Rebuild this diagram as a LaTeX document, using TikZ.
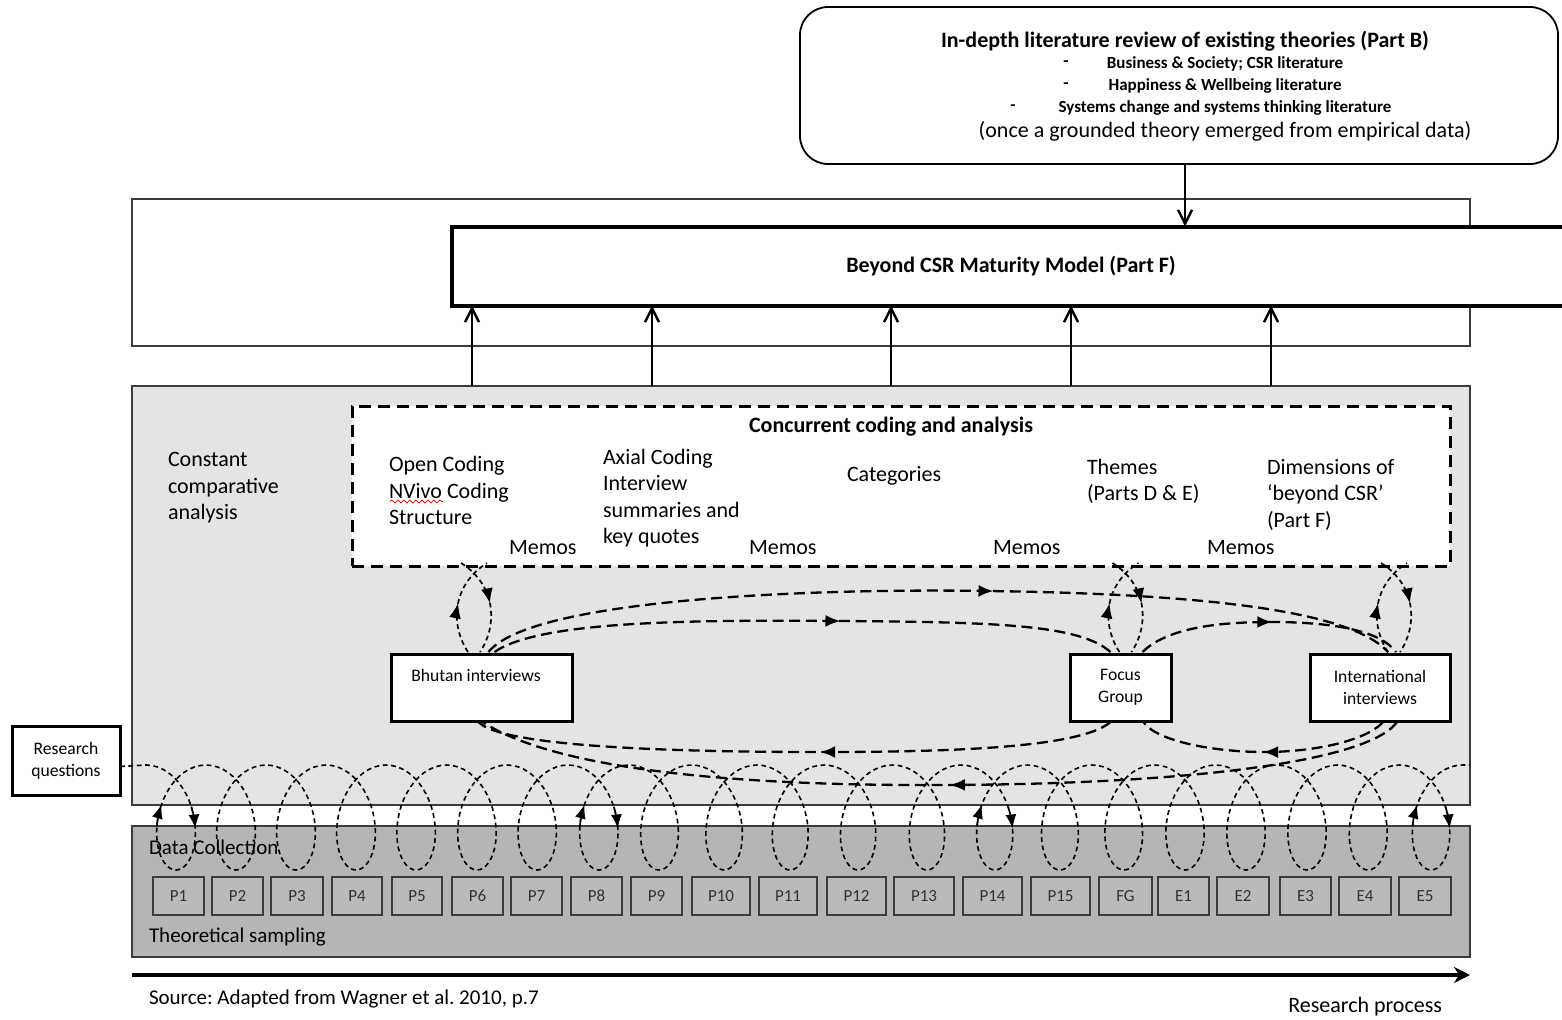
\documentclass[tikz,border=0pt]{standalone}
\usepackage{fontspec}
\setmainfont{Carlito}
\usetikzlibrary{arrows.meta,calc,decorations.markings,decorations.pathmorphing}
\definecolor{panel}{RGB}{228,228,228}
\definecolor{bandgray}{RGB}{181,181,181}
\definecolor{pfill}{RGB}{186,186,186}
\definecolor{edgegray}{RGB}{60,60,60}
\frenchspacing

\begin{document}
\begin{tikzpicture}[x=0.5pt,y=-0.5pt,
  every node/.style={inner sep=0pt,outer sep=0pt},
  f11/.style={font=\fontsize{11}{13.25}\selectfont},
  f11b/.style={font=\bfseries\fontsize{11}{13.25}\selectfont},
  f10/.style={font=\fontsize{10.5}{12.5}\selectfont},
  f9/.style={font=\fontsize{8.8}{11}\selectfont},
  f8b/.style={font=\bfseries\fontsize{8.5}{11}\selectfont},
  heavybox/.style={draw,line width=1.5pt,fill=white},
  pbox/.style={draw=edgegray,line width=0.7pt,fill=pfill,minimum height=19pt,
    font=\fontsize{8.5}{10}\selectfont,text=black!80},
  uparrow/.style={line width=0.75pt,-{Straight Barb[length=7pt,width=7pt,line width=1.2pt]}},
  coilline/.style={line width=0.8pt,dash pattern=on 2.4pt off 1.8pt},
  bigdash/.style={line width=1.15pt,dash pattern=on 5.5pt off 2.8pt},
  cointip/.style={line width=0.8pt,-{Latex[length=7pt,width=5.5pt]}},
  midtip/.style={postaction={decorate,decoration={markings,
    mark=at position #1 with {\arrow{Latex[length=7.5pt,width=6pt]}}}}},
]
\useasboundingbox (0,0) rectangle (1562,1019);

% ---------- literature review ----------
\node[draw,line width=0.9pt,rounded corners=14pt,fill=white,
  minimum width=379pt,minimum height=78.5pt] (lit) at (1179,85.5) {};
\node[f11b] (litT) at (1185,41) {In-depth literature review of existing theories (Part B)};
\node[f8b] (dashA) at (1066,64) {-};
\node[f8b] (dashB) at (1066,86) {-};
\node[f8b] (dashC) at (1013,108) {-};
\node[f8b] (litA) at (1225,64) {Business \& Society; CSR literature};
\node[f8b] (litB) at (1225,86) {Happiness \& Wellbeing literature};
\node[f8b] (litC) at (1225,108) {Systems change and systems thinking literature};
\node[f11] (litN) at (1225,131) {(once a grounded theory emerged from empirical data)};

% ---------- maturity model ----------
\node[draw=edgegray,line width=0.8pt,minimum width=669pt,minimum height=73.5pt] (frame) at (801,272.5) {};
\node[draw,line width=2pt,fill=white,minimum width=559pt,minimum height=39.5pt,
  font=\bfseries\fontsize{11}{12.5}\selectfont] (beyond) at (1011,266) {Beyond CSR Maturity Model (Part F)};
\coordinate (ta) at (1185,0);
\draw[uparrow] (ta |- lit.south) -- (ta |- beyond.north);

% ---------- constant comparative analysis panel ----------
\node[draw=edgegray,line width=0.8pt,fill=panel,minimum width=669pt,minimum height=209.5pt] (cca) at (801,595.5) {};
\node[draw,line width=1.5pt,dash pattern=on 6pt off 3.5pt,fill=white,
  minimum width=549pt,minimum height=80pt] (coding) at (901,486) {};

\foreach \i/\x in {1/472,2/652,3/891,4/1071,5/1271}{
  \coordinate (u\i) at (\x,0);
  \draw[uparrow] (u\i |- cca.north) -- (u\i |- beyond.south);
}

\node[f11,align=left,anchor=west] (ccaT) at (168,488) {Constant\\comparative\\analysis};
\node[f11b] (codT) at (891,427) {Concurrent coding and analysis};
\node[f11,align=left,anchor=west] (open) at (389,490.5) {Open Coding\\NVivo Coding\\Structure};
\draw[red,line width=0.4pt,decorate,decoration={snake,amplitude=0.7pt,segment length=3pt}]
  ($(open.west)+(1,11)$) -- ($(open.west)+(54,11)$);
\node[f11,align=left,anchor=west] (axial) at (603,498) {Axial Coding\\Interview\\summaries and\\key quotes};
\node[f11,anchor=west] (cats) at (847,476) {Categories};
\node[f11,align=left,anchor=west] (themes) at (1087,481.5) {Themes\\(Parts D \& E)};
\node[f11,align=left,anchor=west] (dims) at (1267,494.5) {Dimensions of\\‘beyond CSR’\\(Part F)};
\node[f11,anchor=west] (memoA) at (509,548) {Memos};
\node[f11,anchor=west] (memoB) at (749,548) {Memos};
\node[f11,anchor=west] (memoC) at (993,548) {Memos};
\node[f11,anchor=west] (memoD) at (1207,548) {Memos};

% ---------- data sources ----------
\node[heavybox,minimum width=90.5pt,minimum height=33.5pt] (bhu) at (481.5,687.5) {};
\node[f9] (bhuT) at (476,675) {Bhutan interviews};
\node[heavybox,f9,align=center,minimum width=50.5pt,minimum height=33.5pt] (fg) at (1120.5,687.5) {Focus\\Group};
\node[heavybox,f9,align=center,minimum width=70pt,minimum height=33.5pt] (intl) at (1380,687.5) {International\\interviews};
\node[heavybox,f9,align=center,minimum width=54pt,minimum height=34.5pt] (rq) at (66,760.5) {Research\\questions};

% loops between each source and the coding box
\foreach \nd/\dx in {bhu/-8.5,fg/4,intl/13}{
  \draw[coilline,line width=0.85pt,midtip=0.5] ($(\nd.north)+(\dx-5,-2)$)
    .. controls +(-18,-27) and +(-35,22) .. ($(\nd.north)+(\dx+14,-91)$);
  \draw[coilline,line width=0.85pt,midtip=0.5] ($(\nd.north)+(\dx-12,-91)$)
    .. controls +(35,22) and +(18,-27) .. ($(\nd.north)+(\dx+7,-2)$);
}

% exchanges between the sources
\draw[bigdash,midtip=0.56] ($(bhu.north)+(7,-2)$) .. controls (530,600) and (800,588) .. (990,591)
  .. controls (1200,594) and (1350,610) .. ($(intl.north)+(8,-2)$);
\draw[bigdash,midtip=0.56] ($(bhu.north)+(13,-2)$) .. controls (540,620) and (700,620) .. (840,621)
  .. controls (1000,622) and (1080,625) .. ($(fg.north)+(-10,-2)$);
\draw[bigdash,midtip=0.51] ($(fg.north)+(22,-2)$) .. controls (1170,625) and (1230,622) .. (1272,622)
  .. controls (1330,622) and (1380,630) .. ($(intl.north)+(16,-2)$);
\draw[bigdash,midtip=0.46] ($(fg.south)+(-10,1)$) .. controls (1080,748) and (950,752) .. (820,752)
  .. controls (650,752) and (500,745) .. ($(bhu.south)+(-3,1)$);
\draw[bigdash,midtip=0.5] ($(intl.south)+(3,1)$) .. controls (1365,742) and (1310,752) .. (1265,752)
  .. controls (1210,752) and (1155,740) .. ($(fg.south)+(23,1)$);
\draw[bigdash,midtip=0.49] ($(intl.south)+(17,1)$) .. controls (1370,760) and (1200,784) .. (945,785)
  .. controls (750,786) and (560,772) .. ($(bhu.south)+(1,1)$);

% ---------- data collection band ----------
\node[draw=edgegray,line width=0.8pt,fill=bandgray,minimum width=669pt,minimum height=65.5pt] (band) at (801,891.5) {};
\node[f10,anchor=west] (dcT) at (149,847) {Data Collection};
\node[f10,anchor=west] (tsT) at (149,937) {Theoretical sampling};
\foreach \nm/\l/\r in {P1/153/204,P2/212/263,P3/271/323,P4/332/382,P5/392/442,P6/452/503,
  P7/511/562,P8/571/622,P9/631/682,P10/692/750,P11/759/817,P12/827/886,P13/894/954,
  P14/963/1022,P15/1031/1090,FG/1099/1152,E1/1158/1209,E2/1217/1269,E3/1280/1331,
  E4/1339/1391,E5/1399/1451}{
  \node[pbox,minimum width={(\r-\l)*0.5pt}] (\nm) at ({(\l+\r)/2},896) {\nm};
}

% ---------- theoretical sampling coil ----------
\draw[coilline] ($(rq.east)+(0,6)$) -- (146,765)
  \foreach \xa/\xb/\xc in {116/176/236,176/236/296,236/296/356,296/356/416,356/416/477,
    416/477/537,477/537/599,537/599/659,599/659/724,659/724/790,724/790/858,790/858/927,
    858/927/995,927/995/1060,995/1060/1124,1060/1124/1185,1124/1185/1246,1185/1246/1307,
    1246/1307/1368,1307/1368/1431,1368/1431/1494}{
    -- plot[domain=-3.14159:0,samples=24,variable=\t]
      ({\xb+(\xb-\xa)/6.28318*\t-33*sin(\t r)},{817.5+52.5*cos(\t r)})
    -- plot[domain=0:3.14159,samples=24,variable=\t]
      ({\xb+(\xc-\xb)/6.28318*\t-33*sin(\t r)},{817.5+52.5*cos(\t r)})
  }
  -- ($(cca.east)+(0,169.5)$);
\foreach \xa/\xb/\xc in {116/176/236,537/599/659,927/995/1060,1368/1431/1494}{
  \draw[cointip] plot[domain=1.40:1.82,samples=4,variable=\t]
    ({\xb+(\xc-\xb)/6.28318*\t-33*sin(\t r)},{817.5+52.5*cos(\t r)});
  \draw[cointip] plot[domain=-1.78:-1.36,samples=4,variable=\t]
    ({\xb+(\xb-\xa)/6.28318*\t-33*sin(\t r)},{817.5+52.5*cos(\t r)});
}

% ---------- research process axis ----------
\coordinate (axA) at (132,975);
\coordinate (axB) at (1470,975);
\draw[line width=2pt,-{Stealth[length=8pt,width=8pt]}] (axA) -- (axB);
\node[f10,anchor=west] (src) at (149,999) {Source: Adapted from Wagner et al. 2010, p.7};
\node[f11,anchor=east] (rp) at (1442,1007) {Research process};
\end{tikzpicture}
\end{document}
